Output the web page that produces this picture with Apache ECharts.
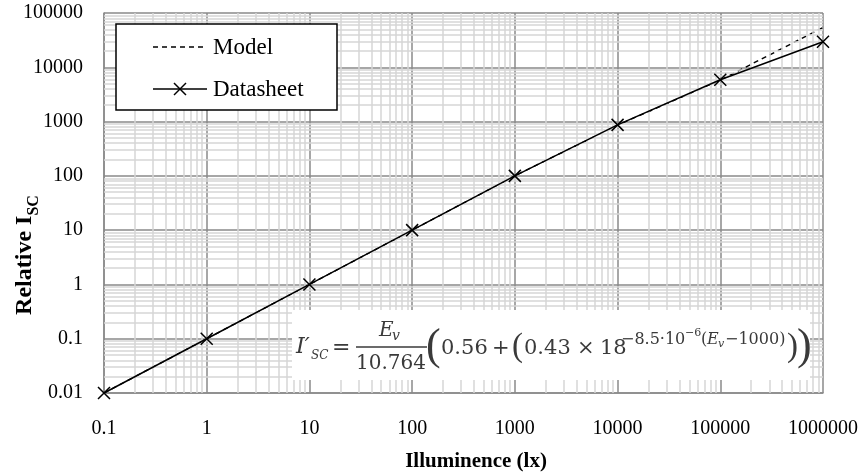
<!DOCTYPE html>
<html>
<head>
<meta charset="utf-8">
<script src="https://cdn.jsdelivr.net/npm/echarts@6/dist/echarts.min.js"></script>
<style>
  html, body { margin: 0; padding: 0; background: #fff; }
  #chart { width: 861px; height: 476px; }
</style>
</head>
<body>
<div id="chart"></div>
<script>
// Illuminance (lx) at which the relative short-circuit current is given
const illuminance = [0.1, 1, 10, 100, 1000, 10000, 100000, 1000000];
// Relative I_SC from the fitted model (dashed)
const modelIsc = [0.01, 0.1, 1, 10, 100, 860, 5800, 54000];
// Relative I_SC from the datasheet (solid, x markers)
const datasheetIsc = [0.01, 0.1, 1, 10, 100, 870, 5900, 29500];

const seriesNames = ['Model', 'Datasheet'];
const xTickLabels = ['0.1', '1', '10', '100', '1000', '10000', '100000', '1000000'];
const yTickLabels = ['0.01', '0.1', '1', '10', '100', '1000', '10000', '100000'];
const xDecades = [-1, 6];
const yDecades = [-2, 5];

const SERIF = "'Liberation Serif', 'Times New Roman', serif";
const MATH = "'DejaVu Serif', serif";
const INK = '#3a3a3a';

// Minor log grid positions: 2..9 within each decade
function minorGrid(range) {
  const out = [];
  for (let e = range[0]; e < range[1]; e++) {
    for (let m = 2; m <= 9; m++) out.push(+(m * Math.pow(10, e)).toPrecision(3));
  }
  return out;
}

function tickText(labels, first) {
  return function (v) {
    const i = Math.round(Math.log10(v)) - first;
    return labels[i] !== undefined ? labels[i] : '';
  };
}

function piece(x, y, text, size, extra) {
  return {
    type: 'text', x: x, y: y, z: 60,
    style: Object.assign({
      text: text, fontSize: size, fontFamily: MATH, fill: INK,
      verticalAlign: 'middle', align: 'left'
    }, extra || {})
  };
}

// Equation box in the lower right of the plot
const formula = [
  { type: 'rect', z: 50, shape: { x: 292, y: 310, width: 518, height: 70 }, style: { fill: '#fff' } },
  piece(296, 347, 'I\u2032', 22, { fontStyle: 'italic' }),
  piece(311, 356, 'SC', 12, { fontStyle: 'italic' }),
  piece(332, 348, '=', 22),
  piece(379, 331, 'E', 20, { fontStyle: 'italic' }),
  piece(392, 336, 'v', 14, { fontStyle: 'italic' }),
  { type: 'line', z: 60, shape: { x1: 356, y1: 347, x2: 427, y2: 347 }, style: { stroke: INK, lineWidth: 1.3 } },
  piece(391, 364, '10.764', 20, { align: 'center' }),
  piece(426, 347, '(', 44, { fontFamily: SERIF }),
  piece(441, 349, '0.56', 21),
  piece(492, 349, '+', 21),
  piece(512, 347, '(', 33, { fontFamily: SERIF }),
  piece(524, 349, '0.43', 21),
  piece(577, 349, '\u00d7', 21),
  piece(600, 349, '18', 21),
  piece(621, 340, '\u22128.5\u00b710', 16),
  piece(685, 333, '\u22126', 11),
  piece(701, 340, '(', 16),
  piece(707, 340, 'E', 16, { fontStyle: 'italic' }),
  piece(718, 344, 'v', 11, { fontStyle: 'italic' }),
  piece(725, 340, '\u22121000)', 16),
  piece(787, 347, ')', 33, { fontFamily: SERIF }),
  piece(797, 347, ')', 44, { fontFamily: SERIF })
];

// Boxed key in the upper left of the plot
const key = [
  { type: 'rect', z: 50, shape: { x: 116, y: 24, width: 221, height: 86 }, style: { fill: '#fff', stroke: '#000', lineWidth: 1.5 } },
  { type: 'line', z: 60, shape: { x1: 153, y1: 47, x2: 204, y2: 47 }, style: { stroke: '#000', lineWidth: 1.4, lineDash: [5, 4] } },
  { type: 'text', z: 60, x: 213, y: 48, style: { text: seriesNames[0], fontFamily: SERIF, fontSize: 23, fill: '#000', verticalAlign: 'middle' } },
  { type: 'line', z: 60, shape: { x1: 153, y1: 89, x2: 207, y2: 89 }, style: { stroke: '#000', lineWidth: 1.5 } },
  { type: 'line', z: 60, shape: { x1: 174, y1: 83, x2: 186, y2: 95 }, style: { stroke: '#000', lineWidth: 1.5 } },
  { type: 'line', z: 60, shape: { x1: 186, y1: 83, x2: 174, y2: 95 }, style: { stroke: '#000', lineWidth: 1.5 } },
  { type: 'text', z: 60, x: 213, y: 90, style: { text: seriesNames[1], fontFamily: SERIF, fontSize: 23, fill: '#000', verticalAlign: 'middle' } }
];

// Axis titles
const titles = [
  {
    type: 'text', z: 60, x: 27, y: 255, rotation: Math.PI / 2,
    style: {
      text: '{a|Relative I}{b|SC}',
      align: 'center', verticalAlign: 'middle',
      rich: {
        a: { fontFamily: SERIF, fontSize: 24, fontWeight: 'bold', fill: '#000', lineHeight: 30, verticalAlign: 'bottom', padding: [0, 0, 5, 0] },
        b: { fontFamily: SERIF, fontSize: 16, fontWeight: 'bold', fill: '#000', lineHeight: 30, verticalAlign: 'bottom' }
      }
    }
  },
  {
    type: 'text', z: 60, x: 476, y: 462,
    style: {
      text: 'Illuminence (lx)', fontFamily: SERIF, fontSize: 21, fontWeight: 'bold',
      fill: '#000', align: 'center', verticalAlign: 'middle'
    }
  }
];

const chart = echarts.init(document.getElementById('chart'), null, { renderer: 'canvas' });

chart.setOption({
  animation: false,
  backgroundColor: '#fff',
  grid: { left: 104, right: 38, top: 13, bottom: 83, containLabel: false, outerBoundsMode: 'none' },
  xAxis: {
    type: 'log', logBase: 10,
    min: 0.1, max: 1000000,
    interval: 1, splitNumber: 7,
    axisLine: { show: true, lineStyle: { color: '#8a8a8a', width: 1.5 } },
    axisTick: { show: false },
    axisLabel: {
      fontFamily: SERIF, fontSize: 20, color: '#000', margin: 26,
      showMinLabel: true, showMaxLabel: true,
      formatter: tickText(xTickLabels, xDecades[0])
    },
    splitLine: { show: true, lineStyle: { color: '#8a8a8a', width: 1.5 } }
  },
  yAxis: {
    type: 'log', logBase: 10,
    min: 0.01, max: 100000,
    interval: 1, splitNumber: 7,
    axisLine: { show: true, lineStyle: { color: '#8a8a8a', width: 1.5 } },
    axisTick: { show: false },
    axisLabel: {
      fontFamily: SERIF, fontSize: 20, color: '#000', margin: 21,
      padding: [6, 0, 0, 0],
      showMinLabel: true, showMaxLabel: true,
      formatter: tickText(yTickLabels, yDecades[0])
    },
    splitLine: { show: true, lineStyle: { color: '#8a8a8a', width: 1.5 } }
  },
  series: [
    {
      // minor log gridlines
      name: 'grid',
      type: 'line',
      data: [],
      z: 1,
      silent: true,
      markLine: {
        silent: true,
        symbol: 'none',
        label: { show: false },
        emphasis: { disabled: true },
        lineStyle: { color: '#d6d6d6', width: 1.5, type: 'solid' },
        data: minorGrid(xDecades).map(v => ({ xAxis: v }))
          .concat(minorGrid(yDecades).map(v => ({ yAxis: v })))
      }
    },
    {
      name: seriesNames[0],
      type: 'line',
      z: 4,
      data: illuminance.map((x, i) => [x, modelIsc[i]]),
      showSymbol: false,
      symbol: 'none',
      itemStyle: { color: '#000' },
      lineStyle: { color: '#000', width: 1.4, type: [5, 4] }
    },
    {
      name: seriesNames[1],
      type: 'line',
      z: 5,
      data: illuminance.map((x, i) => [x, datasheetIsc[i]]),
      symbol: 'path://M0,0L10,10M10,0L0,10',
      symbolSize: 12,
      itemStyle: { color: '#000', borderColor: '#000', borderWidth: 1.5 },
      lineStyle: { color: '#000', width: 1.5, type: 'solid' }
    }
  ],
  graphic: formula.concat(key, titles)
});
</script>
</body>
</html>
